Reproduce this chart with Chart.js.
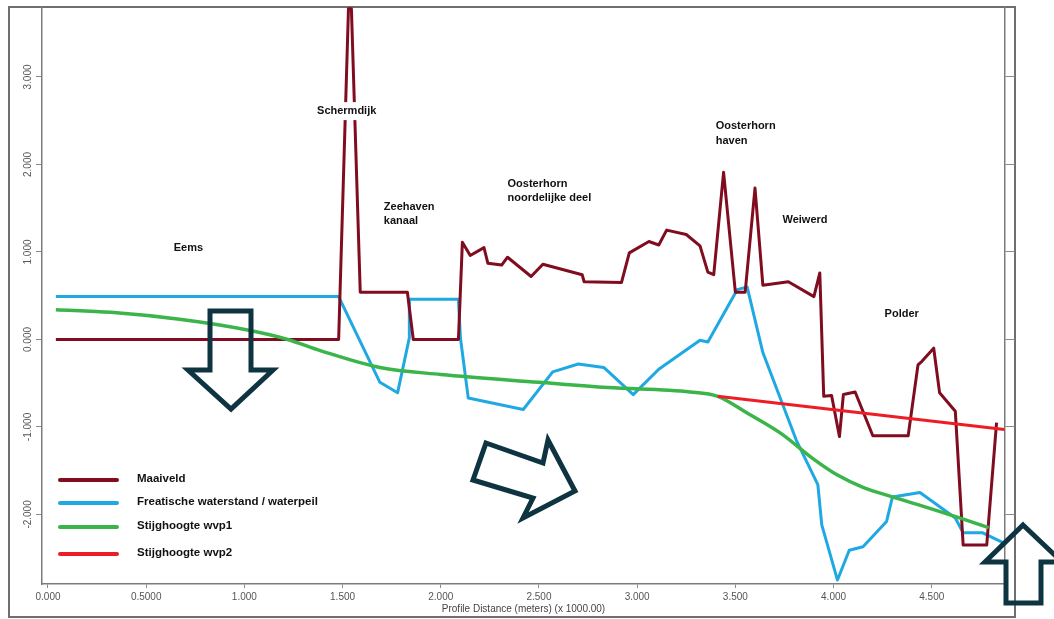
<!DOCTYPE html>
<html>
<head>
<meta charset="utf-8">
<script src="https://cdn.jsdelivr.net/npm/chart.js@4.4.1/dist/chart.umd.min.js"></script>
<style>
  html, body { margin: 0; padding: 0; background: #ffffff; overflow: hidden; }
  #wrap { position: relative; width: 1054px; height: 619px; }
</style>
</head>
<body>
<div id="wrap"><canvas id="c" width="1054" height="619"></canvas></div>
<script>
// Profile distance (x 1000 m) and level (m) for each line of the cross-section
const maaiveldX = [0.04, 1.48, 1.53, 1.545, 1.59, 1.83, 1.86, 2.09, 2.11, 2.15, 2.22,
                   2.24, 2.31, 2.34, 2.46, 2.52, 2.72, 2.73, 2.92, 2.96, 3.06,
                   3.11, 3.15, 3.25, 3.32, 3.36, 3.39, 3.44, 3.50, 3.55, 3.60,
                   3.64, 3.77, 3.90, 3.93, 3.95, 3.99, 4.03, 4.05, 4.11, 4.20,
                   4.38, 4.43, 4.45, 4.51, 4.54, 4.62, 4.66, 4.78, 4.83];
const maaiveldY = [0, 0, 3.78, 3.78, 0.54, 0.54, 0, 0, 1.11, 0.96, 1.05,
                   0.87, 0.85, 0.94, 0.72, 0.86, 0.74, 0.66, 0.65, 0.99, 1.12,
                   1.08, 1.25, 1.20, 1.07, 0.77, 0.74, 1.91, 0.54, 0.54, 1.73,
                   0.62, 0.66, 0.49, 0.76, -0.65, -0.64, -1.11, -0.63, -0.60, -1.10,
                   -1.10, -0.29, -0.25, -0.10, -0.61, -0.82, -2.35, -2.35, -0.95];

const freatischX = [0.04, 1.48, 1.69, 1.78, 1.84, 1.84, 2.09, 2.10, 2.14, 2.42,
                    2.57, 2.70, 2.83, 2.98, 3.11, 3.32, 3.36, 3.51, 3.56, 3.64,
                    3.81, 3.92, 3.94, 4.02, 4.08, 4.15, 4.27, 4.30, 4.44, 4.62,
                    4.66, 4.76, 4.86];
const freatischY = [0.49, 0.49, -0.49, -0.61, 0.02, 0.46, 0.46, 0.02, -0.67, -0.80,
                    -0.37, -0.28, -0.32, -0.63, -0.34, -0.01, -0.03, 0.57, 0.60, -0.15,
                    -1.15, -1.66, -2.12, -2.75, -2.41, -2.37, -2.08, -1.80, -1.75, -2.04,
                    -2.21, -2.21, -2.32];

const wvp1X = [0.04, 0.32, 0.67, 1.01, 1.22, 1.39, 1.69, 2.00, 2.50, 2.85,
               3.27, 3.41, 3.56, 3.73, 3.90, 4.02, 4.15, 4.30, 4.49, 4.63, 4.79];
const wvp1Y = [0.34, 0.31, 0.23, 0.11, 0.00, -0.13, -0.32, -0.40, -0.49, -0.55,
               -0.60, -0.65, -0.84, -1.07, -1.37, -1.55, -1.69, -1.80, -1.93, -2.03, -2.15];

const wvp2X = [3.41, 4.87];
const wvp2Y = [-0.65, -1.03];

const seriesNames = ['Maaiveld', 'Freatische waterstand / waterpeil', 'Stijghoogte wvp1', 'Stijghoogte wvp2'];

const xTickValues = [0, 0.5, 1, 1.5, 2, 2.5, 3, 3.5, 4, 4.5];
const xTickLabels = ['0.000', '0.5000', '1.000', '1.500', '2.000', '2.500', '3.000', '3.500', '4.000', '4.500'];
const yTickValues = [-2, -1, 0, 1, 2, 3];
const yTickLabels = ['-2.000', '-1.000', '0.000', '1.000', '2.000', '3.000'];

// Area names along the profile: [text lines, distance, level]
const areaNames = [
  [['Eems'], 0.64, 1.05],
  [['Schermdijk'], 1.37, 2.61],
  [['Zeehaven', 'kanaal'], 1.71, 1.52],
  [['Oosterhorn', 'noordelijke deel'], 2.34, 1.78],
  [['Oosterhorn', 'haven'], 3.40, 2.44],
  [['Weiwerd'], 3.74, 1.37],
  [['Polder'], 4.26, 0.29]
];

const FONT = '"Liberation Sans", Arial, sans-serif';
const AXIS_GREY = '#7c7c7c';
const colors = ['#800d1f', '#1fa8e2', '#3bb54a', '#ee1d25'];

const toPoints = (xs, ys) => xs.map((x, i) => ({ x: x, y: ys[i] }));

// Frame around the whole graph, drawn behind everything
const framePlugin = {
  id: 'frame',
  beforeDraw(chart) {
    const ctx = chart.ctx;
    ctx.save();
    ctx.fillStyle = '#ffffff';
    ctx.fillRect(0, 0, chart.width, chart.height);
    ctx.strokeStyle = '#6f6f6f';
    ctx.lineWidth = 2;
    ctx.strokeRect(9, 7, 1006, 610);
    ctx.restore();
  }
};

// Rotated value labels on the left axis
const yLabelPlugin = {
  id: 'yLabels',
  afterDraw(chart) {
    const ctx = chart.ctx;
    const ys = chart.scales.y;
    ctx.save();
    ctx.font = '10px ' + FONT;
    ctx.fillStyle = '#555555';
    ctx.textAlign = 'center';
    ctx.textBaseline = 'middle';
    yTickValues.forEach((v, i) => {
      const py = ys.getPixelForValue(v);
      ctx.save();
      ctx.translate(28, py);
      ctx.rotate(-Math.PI / 2);
      ctx.fillText(yTickLabels[i], 0, 0);
      ctx.restore();
    });
    ctx.restore();
  }
};

// Area names (on a white backing) and the legend box in the lower left
const textPlugin = {
  id: 'texts',
  afterDatasetsDraw(chart) {
    const ctx = chart.ctx;
    const xs = chart.scales.x, ys = chart.scales.y;
    ctx.save();
    ctx.font = 'bold 11px ' + FONT;
    ctx.textAlign = 'left';
    ctx.textBaseline = 'middle';
    areaNames.forEach(([lines, x, y]) => {
      const px = xs.getPixelForValue(x);
      const py = ys.getPixelForValue(y);
      lines.forEach((t, k) => {
        const w = ctx.measureText(t).width;
        ctx.fillStyle = '#ffffff';
        ctx.fillRect(px - 3, py + k * 14.5 - 9, w + 6, 18);
      });
      ctx.fillStyle = '#111111';
      lines.forEach((t, k) => ctx.fillText(t, px, py + k * 14.5));
    });

    const rowsY = [479, 502, 526, 553];
    ctx.font = 'bold 11.5px ' + FONT;
    chart.data.datasets.forEach((ds, i) => {
      ctx.strokeStyle = ds.borderColor;
      ctx.lineWidth = 4;
      ctx.lineCap = 'round';
      ctx.beginPath();
      ctx.moveTo(60, rowsY[i] + 1);
      ctx.lineTo(117, rowsY[i] + 1);
      ctx.stroke();
      ctx.fillStyle = '#111111';
      ctx.fillText(ds.label, 137, rowsY[i]);
    });
    ctx.restore();
  }
};

// Outlined flow-direction arrows
const arrowShapes = [
  [[210, 311], [251, 311], [251, 370], [273, 370], [231, 409], [188, 370], [210, 370]],
  [[486, 443], [543, 463], [548, 440], [575, 491], [523, 518], [533, 498], [473, 480]],
  [[1023, 525], [1062, 562], [1041, 562], [1041, 603], [1006, 603], [1006, 562], [985, 562]]
];
const arrowPlugin = {
  id: 'arrows',
  afterDraw(chart) {
    const ctx = chart.ctx;
    ctx.save();
    ctx.strokeStyle = '#0e3441';
    ctx.lineWidth = 5;
    ctx.lineJoin = 'miter';
    arrowShapes.forEach(pts => {
      ctx.beginPath();
      pts.forEach(([x, y], i) => (i ? ctx.lineTo(x, y) : ctx.moveTo(x, y)));
      ctx.closePath();
      ctx.stroke();
    });
    ctx.restore();
  }
};

const yMin = -2.795, yMax = 3.80;

const sideAxis = (pos, width, tickLen) => ({
  type: 'linear',
  position: pos,
  min: yMin,
  max: yMax,
  afterFit(s) { s.width = width; },
  afterBuildTicks(s) { s.ticks = yTickValues.map(v => ({ value: v })); },
  ticks: { display: false },
  grid: { drawOnChartArea: false, drawTicks: true, tickLength: tickLen, color: '#8a8a8a', lineWidth: 1 },
  border: { display: true, color: AXIS_GREY, width: 1.5 }
});

new Chart(document.getElementById('c'), {
  type: 'line',
  data: {
    datasets: [
      { label: seriesNames[0], data: toPoints(maaiveldX, maaiveldY), borderColor: colors[0],
        borderWidth: 3, pointRadius: 0, tension: 0, borderJoinStyle: 'round', order: 2 },
      { label: seriesNames[1], data: toPoints(freatischX, freatischY), borderColor: colors[1],
        borderWidth: 3, pointRadius: 0, tension: 0, borderJoinStyle: 'round', order: 3 },
      { label: seriesNames[2], data: toPoints(wvp1X, wvp1Y), borderColor: colors[2],
        borderWidth: 3.5, pointRadius: 0, cubicInterpolationMode: 'monotone', order: 1 },
      { label: seriesNames[3], data: toPoints(wvp2X, wvp2Y), borderColor: colors[3],
        borderWidth: 3, pointRadius: 0, tension: 0, order: 0 }
    ]
  },
  options: {
    responsive: false,
    animation: false,
    devicePixelRatio: 1,
    parsing: false,
    layout: { padding: { left: 0, right: 39, top: 7, bottom: 0 } },
    plugins: { legend: { display: false }, tooltip: { enabled: false } },
    scales: {
      x: {
        type: 'linear',
        min: -0.0305,
        max: 4.873,
        afterFit(s) { s.height = 35; },
        afterBuildTicks(s) { s.ticks = xTickValues.map(v => ({ value: v })); },
        ticks: {
          callback: (v, i) => xTickLabels[i],
          font: { size: 10, family: FONT },
          color: '#555555',
          padding: 3,
          maxRotation: 0,
          minRotation: 0,
          autoSkip: false
        },
        grid: { drawOnChartArea: false, drawTicks: true, tickLength: 4, color: '#8a8a8a' },
        border: { display: true, color: AXIS_GREY, width: 1.5 },
        title: {
          display: true,
          text: 'Profile Distance (meters) (x 1000.00)',
          font: { size: 10, family: FONT },
          color: '#444444',
          padding: { top: 0, bottom: 4 }
        }
      },
      y: sideAxis('left', 42, 6),
      y2: sideAxis('right', 10, 10)
    }
  },
  plugins: [framePlugin, textPlugin, yLabelPlugin, arrowPlugin]
});
</script>
</body>
</html>
